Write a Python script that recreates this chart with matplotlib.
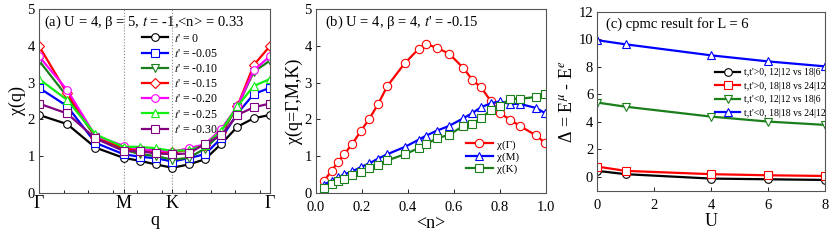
import matplotlib
matplotlib.use("Agg")
import matplotlib.pyplot as plt
import numpy as np

plt.rcParams["font.family"] = ["Liberation Serif", "DejaVu Serif"]
plt.rcParams["mathtext.fontset"] = "stix"

# ---- panel (a): chi(q) along Gamma-M-K-Gamma ----
q_path = [0.0, 0.333, 0.667, 1.0, 1.192, 1.385, 1.577, 1.770, 1.962, 2.155, 2.347, 2.540, 2.732]
q_ticks = [0.0, 1.0, 1.577, 2.732]
q_labels = ["Γ", "M", "K", "Γ"]
tp_labels = ["0", "-0.05", "-0.10", "-0.15", "-0.20", "-0.25", "-0.30"]
chi_tp0 = [2.12, 1.87, 1.23, 0.95, 0.87, 0.77, 0.68, 0.77, 0.91, 1.33, 1.80, 2.03, 2.12]
chi_tp005 = [2.86, 2.36, 1.36, 1.05, 0.98, 0.94, 0.85, 0.94, 1.05, 1.48, 2.16, 2.69, 2.86]
chi_tp010 = [3.60, 2.62, 1.52, 1.18, 1.05, 1.00, 0.90, 0.95, 1.20, 1.62, 2.34, 3.30, 3.60]
chi_tp015 = [4.00, 2.71, 1.53, 1.22, 1.15, 1.12, 1.10, 1.17, 1.30, 1.65, 2.36, 3.48, 4.00]
chi_tp020 = [3.72, 2.80, 1.55, 1.28, 1.19, 1.15, 1.12, 1.21, 1.32, 1.73, 2.36, 3.34, 3.72]
chi_tp025 = [3.10, 2.53, 1.59, 1.25, 1.25, 1.21, 1.14, 1.16, 1.30, 1.68, 2.36, 2.91, 3.10]
chi_tp030 = [2.43, 2.16, 1.48, 1.14, 1.13, 1.07, 1.05, 1.07, 1.33, 1.57, 2.12, 2.33, 2.43]

# ---- panel (b): chi at Gamma, M, K vs filling ----
n_fill = [0.035, 0.068, 0.095, 0.123, 0.158, 0.196, 0.232, 0.271, 0.311, 0.388, 0.449, 0.478,
          0.526, 0.580, 0.642, 0.681, 0.719, 0.763, 0.802, 0.845, 0.889, 0.959, 0.998]
chi_G = [0.32, 0.60, 0.83, 1.05, 1.33, 1.69, 2.01, 2.42, 2.91, 3.54, 3.93, 4.06,
         3.95, 3.79, 3.40, 3.08, 2.87, 2.49, 2.17, 1.99, 1.82, 1.56, 1.36]
chi_M = [0.22, 0.33, 0.42, 0.50, 0.58, 0.70, 0.80, 0.93, 1.05, 1.25, 1.45, 1.55,
         1.69, 1.82, 2.03, 2.17, 2.33, 2.44, 2.49, 2.42, 2.42, 2.31, 2.17]
chi_K = [0.12, 0.25, 0.32, 0.38, 0.47, 0.57, 0.66, 0.76, 0.88, 1.05, 1.22, 1.32,
         1.48, 1.58, 1.82, 1.88, 2.03, 2.26, 2.37, 2.56, 2.56, 2.61, 2.69]

# ---- panel (c): cpmc energy gaps vs U ----
U_vals = [0, 1, 4, 6, 8]
gap_pos_12 = [0.44, 0.20, -0.12, -0.17, -0.22]
gap_pos_18 = [0.75, 0.44, 0.20, 0.12, 0.07]
gap_neg_12 = [5.40, 5.10, 4.38, 4.02, 3.78]
gap_neg_18 = [9.93, 9.63, 8.83, 8.39, 8.03]
gap_labels = ["t,t'>0, 12|12 vs 18|6", "t,t'>0, 18|18 vs 24|12",
              "t,t'<0, 12|12 vs 18|6", "t,t'<0, 18|18 vs 24|12"]

W, H = 831, 241
fig = plt.figure(figsize=(W / 100, H / 100), dpi=100)


def px_axes(left, right, top, bottom):
    return fig.add_axes([left / W, 1 - bottom / H, (right - left) / W, (bottom - top) / H])


def style(ax):
    ax.tick_params(direction="in", labelsize=10.5, length=3, width=0.6, pad=3)
    ax.tick_params(which="minor", direction="in", length=2, width=0.6)
    for s in ax.spines.values():
        s.set_linewidth(0.8)
        s.set_color("#555555")


def mk(color, marker, ms=5.5):
    return dict(color=color, marker=marker, ms=ms, mfc="white", mec=color, mew=0.8, lw=1.6)


# panel (a)
ax = px_axes(39, 270, 9.3, 192.7)
series_a = [chi_tp0, chi_tp005, chi_tp010, chi_tp015, chi_tp020, chi_tp025, chi_tp030]
colors_a = ["black", "#0000ff", "#1a7f1a", "#ff0000", "#ff00ff", "#11ee11", "#800080"]
markers_a = ["o", "s", "v", "D", "o", "^", "s"]
for ys, c, m, lab in zip(series_a, colors_a, markers_a, tp_labels):
    ax.plot(q_path, ys, label="$t$' = " + lab, **mk(c, m, 5.5 if m != "D" else 5))
ax.axvline(q_ticks[1], color="#888888", ls=":", lw=0.8, zorder=0)
ax.axvline(q_ticks[2], color="#888888", ls=":", lw=0.8, zorder=0)
ax.set_xlim(0, 2.732)
ax.set_ylim(0, 5)
ax.set_xticks(q_ticks)
ax.set_xticklabels(q_labels, fontsize=13)
ax.set_xticks([0.29, 0.58, 0.87, 1.16, 1.45, 1.74, 2.03, 2.32, 2.61], minor=True)
style(ax)
ax.tick_params(axis="x", labelsize=13, pad=2)
ax.set_xlabel("q", fontsize=13, labelpad=0)
ax.set_ylabel("χ(q)", fontsize=13, labelpad=1)
ax.text(0.02, 0.975, "(a) U = 4, β = 5, $t$ = -1,<n> = 0.33", transform=ax.transAxes,
        fontsize=10.5, va="top", ha="left")
ax.legend(loc="upper left", bbox_to_anchor=(0.42, 0.905), frameon=False, fontsize=8.5,
          handlelength=2.2, labelspacing=0.27, borderpad=0, handletextpad=0.5)

# panel (b)
ax = px_axes(316, 545.5, 9.3, 192.7)
ax.plot(n_fill, chi_G, label="χ(Γ)", **mk("#ff0000", "o", 6))
ax.plot(n_fill, chi_M, label="χ(M)", **mk("#0000ff", "^", 6))
ax.plot(n_fill, chi_K, label="χ(K)", **mk("#1a7f1a", "s", 6))
ax.set_xlim(0, 1.0)
ax.set_ylim(0, 5)
ax.set_xticks(np.arange(0, 1.01, 0.2))
ax.xaxis.set_major_formatter(matplotlib.ticker.FormatStrFormatter("%.1f"))
style(ax)
ax.tick_params(axis="x", pad=6)
ax.set_xlabel("<n>", fontsize=13, labelpad=1)
ax.set_ylabel("χ(q=Γ,M,K)", fontsize=13, labelpad=1)
ax.text(0.04, 0.975, "(b) U = 4, β = 4, $t$' = -0.15", transform=ax.transAxes,
        fontsize=10.5, va="top", ha="left")
ax.legend(loc="upper left", bbox_to_anchor=(0.63, 0.32), frameon=False, fontsize=8,
          handlelength=2.4, labelspacing=0.2, borderpad=0, handletextpad=0.4)

# panel (c)
ax = px_axes(597.3, 825, 11.7, 190.7)
series_c = [gap_pos_12, gap_pos_18, gap_neg_12, gap_neg_18]
colors_c = ["black", "#ff0000", "#1a7f1a", "#0000ff"]
markers_c = ["o", "s", "v", "^"]
for ys, c, m, lab in zip(series_c, colors_c, markers_c, gap_labels):
    ax.plot(U_vals, ys, label=lab, **mk(c, m))
ax.set_xlim(0, 8)
ax.set_ylim(-1, 12)
ax.set_xticks([0, 2, 4, 6, 8])
ax.set_yticks([0, 2, 4, 6, 8, 10, 12])
style(ax)
ax.tick_params(axis="x", pad=6)
ax.set_xlabel("U", fontsize=13, labelpad=1)
ax.set_ylabel(r"Δ = E$^{\mu}$ - E$^{e}$", fontsize=13, labelpad=2)
ax.text(0.04, 0.97, "(c) cpmc result for L = 6", transform=ax.transAxes,
        fontsize=10.5, va="top", ha="left")
ax.legend(loc="upper left", bbox_to_anchor=(0.495, 0.71), frameon=False, fontsize=7,
          handlelength=2.6, labelspacing=0.45, borderpad=0, handletextpad=0.4)

fig.savefig("out.png", dpi=100)
plt.close(fig)
